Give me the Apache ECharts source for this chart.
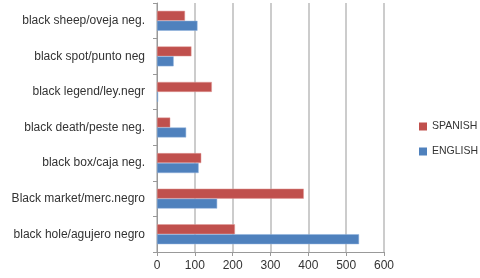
<!DOCTYPE html>
<html>
<head>
<meta charset="utf-8">
<script src="https://cdn.jsdelivr.net/npm/echarts@6/dist/echarts.min.js"></script>
<style>
html,body{margin:0;padding:0;background:#fff;}
#main{width:480px;height:278px;}
</style>
</head>
<body>
<div id="main"></div>
<script>
// categories listed bottom -> top (ECharts category y axis starts at the bottom)
var categories = [
    'black hole/agujero negro',
    'Black market/merc.negro',
    'black box/caja neg.',
    'black death/peste neg.',
    'black legend/ley.negr',
    'black spot/punto neg',
    'black sheep/oveja neg.'
];
var englishData = [534, 159, 110, 77, 3, 44, 107];
var spanishData = [206, 388, 117, 35, 145, 91, 74];
var xTicks = [0, 600, 100];

var chart = echarts.init(document.getElementById('main'));
var labelFont = 'Liberation Sans';

var option = {
    animation: false,
    grid: {left: 157, right: 96, top: 3, bottom: 26},
    legend: {
        orient: 'vertical',
        left: 414,
        top: 116,
        itemWidth: 8,
        itemHeight: 8,
        itemGap: 14,
        icon: 'rect',
        data: ['SPANISH', 'ENGLISH'],
        itemStyle: {borderWidth: 0},
        textStyle: {fontFamily: labelFont, fontSize: 10.5, color: '#333'}
    },
    xAxis: {
        type: 'value',
        min: xTicks[0],
        max: xTicks[1],
        interval: xTicks[2],
        axisLine: {show: true, lineStyle: {color: '#999'}},
        axisTick: {show: true, length: 4, lineStyle: {color: '#999'}},
        axisLabel: {fontFamily: labelFont, fontSize: 12, color: '#333', margin: 8},
        splitLine: {show: true, lineStyle: {color: '#bbb', width: 1.5}}
    },
    yAxis: {
        type: 'category',
        data: categories,
        axisLine: {show: true, lineStyle: {color: '#999'}},
        axisTick: {show: true, length: 4, lineStyle: {color: '#999'}},
        axisLabel: {fontFamily: labelFont, fontSize: 12, color: '#333', margin: 12}
    },
    series: [
        {
            name: 'SPANISH',
            type: 'bar',
            data: spanishData,
            barGap: '0%',
            barCategoryGap: '44%',
            itemStyle: {color: '#C0504D', borderColor: '#e09a98', borderWidth: 0.5}
        },
        {
            name: 'ENGLISH',
            type: 'bar',
            data: englishData,
            barGap: '0%',
            barCategoryGap: '44%',
            itemStyle: {color: '#4F81BD', borderColor: '#8fb0dc', borderWidth: 0.5}
        }
    ]
};
chart.setOption(option);
</script>
</body>
</html>
